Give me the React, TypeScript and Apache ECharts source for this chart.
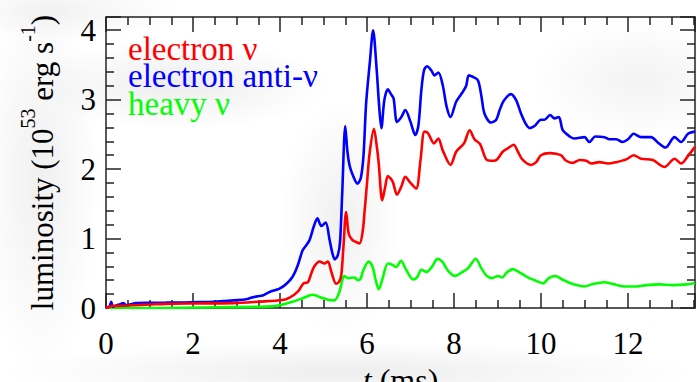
import React, { useEffect, useRef } from "react";
import * as echarts from "echarts";

// [t (ms), luminosity (10^53 erg/s)]
const electronNu: [number, number][] = [
  [0, 0], [0.16, 0.03], [0.3, 0.03], [0.62, 0.04], [1.0, 0.05], [1.38, 0.06], [2.0, 0.065], [2.92, 0.07],
  [3.5, 0.09], [4.06, 0.115], [4.22, 0.15], [4.41, 0.235], [4.54, 0.355], [4.64, 0.37], [4.72, 0.5],
  [4.79, 0.6], [4.91, 0.67], [5.02, 0.64], [5.1, 0.67], [5.18, 0.52], [5.29, 0.35], [5.36, 0.38],
  [5.41, 0.48], [5.46, 0.9], [5.52, 1.38], [5.58, 1.07], [5.66, 0.98], [5.75, 0.95], [5.83, 0.93],
  [5.9, 1.1], [5.94, 1.36], [6.0, 1.8], [6.06, 2.23], [6.16, 2.58], [6.23, 2.3], [6.27, 2.08],
  [6.35, 1.55], [6.42, 1.75], [6.48, 1.9], [6.59, 1.82], [6.69, 1.63], [6.79, 1.75], [6.88, 1.89],
  [7.0, 1.8], [7.13, 1.72], [7.23, 2.13], [7.32, 2.54], [7.4, 2.52], [7.54, 2.37], [7.64, 2.44],
  [7.74, 2.27], [7.92, 2.06], [8.05, 2.25], [8.23, 2.37], [8.36, 2.56], [8.47, 2.43], [8.6, 2.36],
  [8.74, 2.14], [8.85, 2.12], [8.97, 2.13], [9.12, 2.25], [9.24, 2.3], [9.37, 2.35], [9.47, 2.25],
  [9.57, 2.14], [9.77, 2.06], [9.89, 2.1], [10.0, 2.2], [10.2, 2.23], [10.35, 2.22], [10.46, 2.2],
  [10.58, 2.12], [10.73, 2.09], [10.89, 2.13], [11.04, 2.12], [11.15, 2.08], [11.34, 2.1],
  [11.54, 2.08], [11.73, 2.1], [11.96, 2.14], [12.13, 2.2], [12.3, 2.15], [12.57, 2.13],
  [12.84, 2.03], [13.07, 2.15], [13.22, 2.08], [13.38, 2.19], [13.54, 2.32],
];

const electronAntiNu: [number, number][] = [
  [0, 0], [0.08, 0.02], [0.12, 0.09], [0.16, 0.02], [0.25, 0.04], [0.31, 0.05], [0.4, 0.07],
  [0.46, 0.04], [0.55, 0.05], [0.69, 0.07], [1.0, 0.075], [1.38, 0.077], [1.8, 0.08], [2.15, 0.086],
  [2.5, 0.09], [2.92, 0.11], [3.22, 0.125], [3.35, 0.15], [3.49, 0.17], [3.6, 0.18], [3.76, 0.23],
  [3.99, 0.28], [4.15, 0.35], [4.29, 0.45], [4.4, 0.6], [4.52, 0.83], [4.6, 0.9], [4.68, 0.98],
  [4.78, 1.18], [4.86, 1.29], [4.95, 1.18], [5.05, 1.23], [5.14, 0.98], [5.2, 0.8], [5.26, 0.7],
  [5.33, 0.76], [5.38, 0.95], [5.43, 1.65], [5.5, 2.62], [5.55, 2.25], [5.6, 2.05], [5.67, 1.92],
  [5.78, 1.79], [5.86, 1.88], [5.92, 2.2], [5.98, 2.95], [6.07, 3.57], [6.14, 4.0], [6.22, 3.45],
  [6.28, 2.9], [6.33, 2.59], [6.4, 3.0], [6.48, 3.15], [6.55, 3.08], [6.61, 3.02], [6.69, 2.68],
  [6.79, 2.75], [6.88, 2.85], [7.0, 2.68], [7.11, 2.49], [7.18, 2.62], [7.25, 3.14], [7.31, 3.42],
  [7.38, 3.48], [7.48, 3.42], [7.55, 3.35], [7.64, 3.39], [7.74, 3.21], [7.83, 2.9], [7.92, 2.75],
  [8.05, 2.97], [8.2, 3.11], [8.28, 3.2], [8.34, 3.35], [8.43, 3.33], [8.55, 3.28], [8.63, 3.05],
  [8.7, 2.8], [8.85, 2.67], [8.97, 2.71], [9.05, 2.85], [9.14, 2.98], [9.31, 3.08], [9.43, 2.99],
  [9.54, 2.8], [9.65, 2.65], [9.74, 2.59], [9.85, 2.62], [10.0, 2.71], [10.08, 2.71], [10.21, 2.78],
  [10.31, 2.73], [10.41, 2.75], [10.5, 2.56], [10.66, 2.47], [10.77, 2.44], [11.0, 2.46],
  [11.11, 2.39], [11.25, 2.47], [11.46, 2.46], [11.57, 2.43], [11.73, 2.43], [11.87, 2.39],
  [12.0, 2.43], [12.13, 2.51], [12.3, 2.46], [12.53, 2.46], [12.69, 2.38], [12.86, 2.31],
  [13.07, 2.46], [13.22, 2.39], [13.38, 2.51], [13.54, 2.54],
];

const heavyNu: [number, number][] = [
  [0, 0], [1.0, 0.0], [2.5, 0.01], [3.68, 0.02], [3.99, 0.04], [4.29, 0.09], [4.52, 0.14],
  [4.75, 0.19], [4.91, 0.16], [5.1, 0.12], [5.25, 0.11], [5.37, 0.24], [5.44, 0.42], [5.48, 0.46],
  [5.56, 0.43], [5.71, 0.44], [5.79, 0.4], [5.85, 0.42], [5.92, 0.55], [6.04, 0.67], [6.13, 0.59],
  [6.2, 0.4], [6.27, 0.27], [6.36, 0.43], [6.48, 0.64], [6.59, 0.62], [6.67, 0.59], [6.78, 0.68],
  [6.9, 0.55], [7.06, 0.41], [7.15, 0.44], [7.25, 0.55], [7.37, 0.52], [7.5, 0.6], [7.62, 0.71],
  [7.74, 0.66], [7.86, 0.54], [8.02, 0.46], [8.17, 0.51], [8.32, 0.57], [8.5, 0.71], [8.63, 0.57],
  [8.74, 0.47], [8.87, 0.43], [9.01, 0.46], [9.11, 0.44], [9.21, 0.51], [9.35, 0.56], [9.51, 0.51],
  [9.7, 0.44], [9.89, 0.39], [10.05, 0.355], [10.18, 0.43], [10.33, 0.46], [10.49, 0.41],
  [10.73, 0.345], [11.0, 0.31], [11.19, 0.345], [11.46, 0.37], [11.65, 0.345], [11.96, 0.31],
  [12.19, 0.31], [12.42, 0.33], [12.72, 0.34], [13.03, 0.33], [13.34, 0.34], [13.54, 0.36],
];

const seriesNames = ["electron ν", "electron anti-ν", "heavy ν"];
const seriesColors = ["#ff0000", "#0000ff", "#00ff00"];

const X_MIN = 0;
const X_MAX = 13.54;
const X_INTERVAL = 2;
const Y_MIN = 0;
const Y_MAX = 4.19;
const Y_INTERVAL = 1;

const FONT = "Liberation Serif";
const AXIS_COLOR = "#222";

export default function App() {
  const ref = useRef<HTMLDivElement>(null);

  useEffect(() => {
    if (!ref.current) return;
    const chart = echarts.init(ref.current, undefined, { renderer: "svg" });

    const tickStyle = {
      axisLine: { show: true, onZero: false, lineStyle: { color: AXIS_COLOR, width: 1.5 } },
      axisTick: { show: true, inside: true, length: 15, lineStyle: { color: AXIS_COLOR, width: 1.5 } },
      minorTick: { show: true, length: 8, lineStyle: { color: AXIS_COLOR, width: 1.5 } },
      splitLine: { show: false },
    };

    const bgBlob = (cx: number, cy: number, rx: number, ry: number, a: number) => ({
      type: "ellipse",
      z: -10,
      silent: true,
      shape: { cx, cy, rx, ry },
      style: {
        fill: new echarts.graphic.RadialGradient(0.5, 0.5, 0.5, [
          { offset: 0, color: `rgba(0,0,0,${a})` },
          { offset: 1, color: "rgba(0,0,0,0)" },
        ]),
      },
    });

    const datasets = [electronNu, electronAntiNu, heavyNu];

    chart.setOption({
      animation: false,
      backgroundColor: "#ffffff",
      textStyle: { fontFamily: FONT },
      graphic: [
        bgBlob(180, 85, 150, 45, 0.07),
        bgBlob(340, 220, 60, 120, 0.06),
        bgBlob(640, 80, 110, 60, 0.05),
        bgBlob(40, 180, 60, 200, 0.06),
        bgBlob(350, 372, 350, 30, 0.07),
        bgBlob(60, 10, 120, 30, 0.05),
      ],
      grid: { left: 106, right: 2, top: 17, bottom: 74, containLabel: false, outerBoundsMode: "none" },
      legend: {
        orient: "vertical",
        left: 118,
        top: 27,
        itemWidth: 0,
        itemHeight: 0,
        itemGap: -5.5,
        icon: "none",
        selectedMode: false,
        textStyle: { fontFamily: FONT, fontSize: 33 },
        data: seriesNames.map((n, i) => ({ name: n, textStyle: { color: seriesColors[i], fontFamily: FONT } })),
      },
      xAxis: [
        {
          type: "value",
          min: X_MIN,
          max: X_MAX,
          interval: X_INTERVAL,
          minorSplitLine: { show: false },
          ...tickStyle,
          minorTick: { ...tickStyle.minorTick, splitNumber: 4 },
          axisLabel: {
            show: true,
            showMaxLabel: false,
            margin: 20,
            color: "#000",
            fontFamily: FONT,
            fontSize: 31,
          },
          name: "{i|t} {a|(ms)}",
          nameLocation: "middle",
          nameGap: 43,
          nameTextStyle: {
            color: "#000",
            fontFamily: FONT,
            fontSize: 32,
            rich: {
              i: { fontFamily: FONT, fontSize: 32, fontStyle: "italic", color: "#000" },
              a: { fontFamily: FONT, fontSize: 32, color: "#000" },
            },
          },
        },
        {
          type: "value",
          position: "top",
          min: X_MIN,
          max: X_MAX,
          interval: X_INTERVAL,
          ...tickStyle,
          minorTick: { ...tickStyle.minorTick, splitNumber: 4 },
          axisLabel: { show: false },
        },
      ],
      yAxis: [
        {
          type: "value",
          min: Y_MIN,
          max: Y_MAX,
          interval: Y_INTERVAL,
          ...tickStyle,
          minorTick: { ...tickStyle.minorTick, splitNumber: 5 },
          axisLabel: {
            show: true,
            showMaxLabel: false,
            margin: 10,
            color: "#000",
            fontFamily: FONT,
            fontSize: 31,
          },
          name: "{a|luminosity (10}{s|53}{a| erg s}{s|-1}{a|)}",
          nameLocation: "middle",
          nameRotate: 90,
          nameGap: 48,
          nameTextStyle: {
            color: "#000",
            fontFamily: FONT,
            fontSize: 31,
            rich: {
              a: { fontFamily: FONT, fontSize: 31, color: "#000", lineHeight: 40, verticalAlign: "bottom" },
              s: { fontFamily: FONT, fontSize: 20, color: "#000", lineHeight: 40, verticalAlign: "top" },
            },
          },
        },
        {
          type: "value",
          position: "right",
          min: Y_MIN,
          max: Y_MAX,
          interval: Y_INTERVAL,
          ...tickStyle,
          minorTick: { ...tickStyle.minorTick, splitNumber: 5 },
          axisLabel: { show: false },
        },
      ],
      series: datasets.map((d, i) => ({
        name: seriesNames[i],
        type: "line",
        xAxisIndex: 0,
        yAxisIndex: 0,
        data: d,
        showSymbol: false,
        symbol: "none",
        smooth: 0.3,
        clip: true,
        lineStyle: { color: seriesColors[i], width: 2.6 },
        itemStyle: { color: seriesColors[i] },
        z: 3 - i,
      })),
    });

    return () => chart.dispose();
  }, []);

  return <div ref={ref} style={{ width: 697, height: 382, position: "absolute", left: 0, top: 0 }} />;
}
